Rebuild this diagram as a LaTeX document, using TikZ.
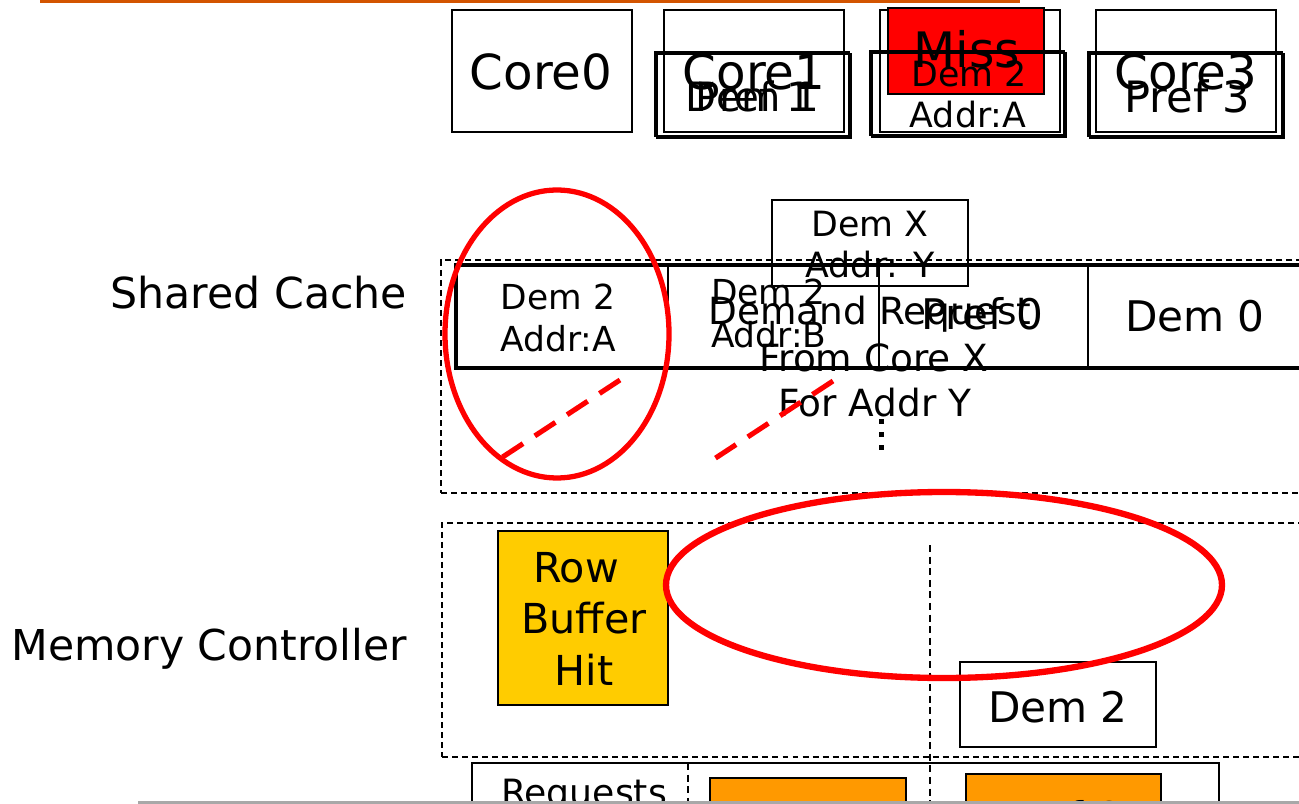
\documentclass[tikz,border=0pt]{standalone}
\usepackage{fontspec}
\setmainfont{DejaVu Sans}
\usetikzlibrary{shapes.geometric}
\newcommand\fsz[2]{\fontsize{#1}{#2}\selectfont}
\definecolor{slideorange}{HTML}{D35400}
\definecolor{missred}{HTML}{FF0000}
\definecolor{hitgold}{HTML}{FFCC00}
\definecolor{reqorange}{HTML}{FF9900}
\definecolor{edgegray}{HTML}{A8A8A8}
\begin{document}
\begin{tikzpicture}[x=0.02cm,y=-0.02cm,
  box/.style={draw,line width=1.1pt,inner sep=0pt,outer sep=0pt},
  txt/.style={inner sep=0pt,outer sep=0pt,anchor=base},
  region/.style={draw,line width=0.7pt,dash pattern=on 3.4pt off 2.3pt},
  divider/.style={draw,line width=0.7pt,dash pattern=on 4pt off 2.6pt},
  redring/.style={draw=missred,line width=3pt},
  redstroke/.style={draw=missred,line width=2.9pt,dash pattern=on 14pt off 8pt}]
\useasboundingbox (0,0) rectangle (1299,804);
\clip (0,0) rectangle (1299,804);

% title rule
\coordinate (ruleA) at (40,1.5);
\coordinate (ruleB) at (1020,1.5);
\draw[slideorange,line width=1.8pt] (ruleA) -- (ruleB);

% cores
\node[box,minimum width=180*0.02cm,minimum height=122*0.02cm] (core0) at (542,71) {};
\node[box,minimum width=180*0.02cm,minimum height=122*0.02cm] (core1) at (754,71) {};
\node[box,minimum width=180*0.02cm,minimum height=122*0.02cm] (core2) at (970,71) {};
\node[box,minimum width=180*0.02cm,minimum height=122*0.02cm] (core3) at (1186,71) {};
\node[txt] (core0t) at (541,90) {\fsz{27.5pt}{32pt}Core0};
\node[txt] (core1t) at (754,90) {\fsz{27.5pt}{32pt}Core1};
\node[txt] (core3t) at (1186,90) {\fsz{27.5pt}{32pt}Core3};

% miss flag on core 2
\node[box,fill=missred,line width=0.8pt,minimum width=156*0.02cm,minimum height=86*0.02cm] (miss) at (966,51) {};
\node[txt] (misst) at (967,68) {\fsz{27.8pt}{32pt}Miss};

% requests issued by the cores
\node[box,minimum width=194*0.02cm,minimum height=84*0.02cm] (req1a) at (752,94) {};
\node[box,minimum width=194*0.02cm,minimum height=84*0.02cm] (req1b) at (754,96) {};
\node[txt] (dem1) at (752,112) {\fsz{23pt}{26pt}Dem 1};
\node[txt] (pref1) at (754,112) {\fsz{23pt}{26pt}Pref 1};
\node[box,minimum width=194*0.02cm,minimum height=84*0.02cm] (req2a) at (967,93) {};
\node[box,minimum width=194*0.02cm,minimum height=84*0.02cm] (req2b) at (969,95) {};
\node[txt] (dem2t) at (969,87) {\fsz{19.8pt}{23pt}Dem 2};
\node[txt] (addrAt) at (968,128) {\fsz{19.8pt}{23pt}Addr:A};
\node[box,minimum width=194*0.02cm,minimum height=84*0.02cm] (req3a) at (1185,94) {};
\node[box,minimum width=194*0.02cm,minimum height=84*0.02cm] (req3b) at (1187,96) {};
\node[txt] (pref3) at (1187,113) {\fsz{24.6pt}{28pt}Pref 3};

% level labels
\node[txt,anchor=base east] (lblcache) at (407,309) {\fsz{24.3pt}{28pt}Shared Cache};
\node[txt,anchor=base east] (lblmc) at (407,660) {\fsz{24.2pt}{28pt}Memory Controller};

% shared cache
\node[region,inner sep=0pt,outer sep=0pt,minimum width=880*0.02cm,minimum height=233*0.02cm] (cache) at (881,376.5) {};
\node[draw,line width=2.8pt,inner sep=0pt,outer sep=0pt,minimum width=860*0.02cm,minimum height=103*0.02cm] (cacheset) at (886,316.5) {};
\node[box,line width=1pt,minimum width=196*0.02cm,minimum height=86*0.02cm] (demx) at (870,243) {};
\node[txt] (demxt) at (870,237) {\fsz{19.8pt}{23pt}Dem X};
\node[txt] (addryt) at (870,278) {\fsz{19.8pt}{23pt}Addr: Y};
\coordinate (w1t) at (668,265); \coordinate (w1b) at (668,368);
\coordinate (w2t) at (879,265); \coordinate (w2b) at (879,368);
\coordinate (w3t) at (1088,265); \coordinate (w3b) at (1088,368);
\draw[line width=0.8pt] (w1t) -- (w1b) (w2t) -- (w2b) (w3t) -- (w3b);
\node[txt] (wa1) at (558,310) {\fsz{19.6pt}{23pt}Dem 2};
\node[txt] (wa2) at (558,352) {\fsz{19.6pt}{23pt}Addr:A};
\node[txt,anchor=base west] (wb1) at (711,305) {\fsz{19.6pt}{23pt}Dem 2};
\node[txt,anchor=base west] (wb2) at (711,348) {\fsz{19.6pt}{23pt}Addr:B};
\node[txt,anchor=base west] (wc) at (921,330) {\fsz{24pt}{28pt}Pref 0};
\node[txt] (wd) at (1195,332) {\fsz{24pt}{28pt}Dem 0};
\node[txt] (dr1) at (870,325) {\fsz{21.3pt}{26pt}Demand Request};
\node[txt] (dr2) at (874,372) {\fsz{21.3pt}{26pt}From Core X};
\node[txt] (dr3) at (875,417) {\fsz{21.3pt}{26pt}For Addr Y};
\foreach \yy [count=\i] in {421,434,447}
  \node[fill,inner sep=0pt,minimum size=5*0.02cm] (dot\i) at (881,\yy) {};

% eviction marks
\node[redring,ellipse,inner sep=0pt,minimum width=224*0.02cm,minimum height=288*0.02cm] (evict) at (557,334) {};
\coordinate (s1a) at (620,380); \coordinate (s1b) at (495,462);
\coordinate (s2a) at (833,381); \coordinate (s2b) at (708,463);
\draw[redstroke] (s1a) -- (s1b);
\draw[redstroke] (s2a) -- (s2b);

% memory controller
\node[region,inner sep=0pt,outer sep=0pt,minimum width=880*0.02cm,minimum height=234*0.02cm] (mc) at (882,640) {};
\coordinate (bankTop) at (930,545); \coordinate (bankBot) at (930,810);
\draw[divider] (bankTop) -- (bankBot);
\node[box,line width=0.8pt,fill=hitgold,minimum width=170*0.02cm,minimum height=174*0.02cm] (rbh) at (583,618) {};
\node[txt] (rbh1) at (576,582) {\fsz{23.5pt}{28pt}Row};
\node[txt] (rbh2) at (584,633) {\fsz{23.5pt}{28pt}Buffer};
\node[txt] (rbh3) at (584,685) {\fsz{23.5pt}{28pt}Hit};
\node[box,line width=0.9pt,minimum width=196*0.02cm,minimum height=85*0.02cm] (mcdem) at (1058,704.5) {};
\node[txt] (mcdemt) at (1058,722) {\fsz{24pt}{28pt}Dem 2};
\node[redring,line width=3.6pt,ellipse,inner sep=0pt,minimum width=556*0.02cm,minimum height=186*0.02cm] (idle) at (944,585) {};

% request buffer
\node[box,line width=0.8pt,minimum width=747*0.02cm,minimum height=80*0.02cm] (reqbuf) at (845.5,803) {};
\coordinate (qTop) at (688,763); \coordinate (qBot) at (688,810);
\draw[divider] (qTop) -- (qBot);
\node[txt] (reqt) at (584,805) {\fsz{20.6pt}{24pt}Requests};
\node[box,line width=0.8pt,fill=reqorange,minimum width=196*0.02cm,minimum height=60*0.02cm] (slotA) at (808,808) {};
\node[box,line width=0.8pt,fill=reqorange,minimum width=195*0.02cm,minimum height=64*0.02cm] (slotB) at (1063.5,806) {};
\node[txt] (slotBt) at (1063,832) {\fsz{24pt}{28pt}Pref 2};

% page edge
\coordinate (edgeA) at (138,802.5);
\coordinate (edgeB) at (1299,802.5);
\draw[edgegray,line width=1.2pt] (edgeA) -- (edgeB);
\end{tikzpicture}
\end{document}
